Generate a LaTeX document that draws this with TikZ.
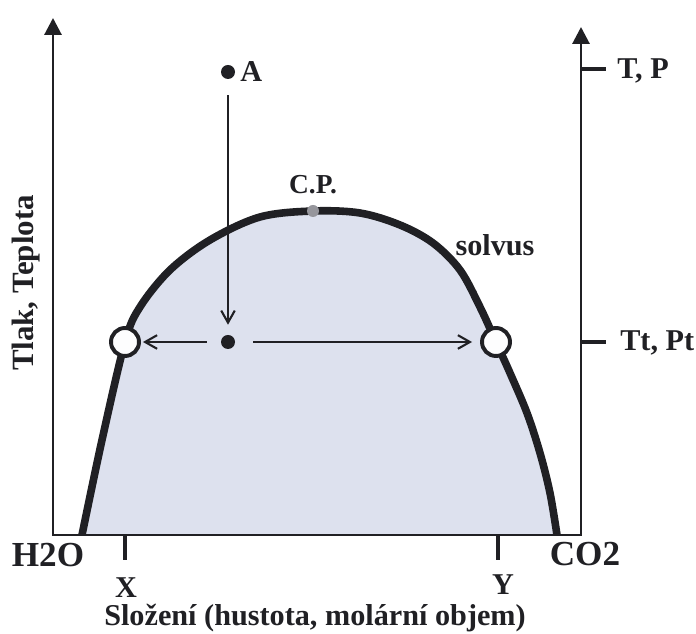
\documentclass[tikz,border=0pt]{standalone}
\usepackage{fontspec}
\setmainfont{Liberation Serif}
\usepackage{tikz}
\usetikzlibrary{arrows.meta, positioning}
\definecolor{domefill}{RGB}{221, 225, 238}
\definecolor{inkdark}{RGB}{32, 32, 36}
\definecolor{cpgrey}{RGB}{150, 150, 156}

\tikzset{
    lbl/.style={font=\fontsize{21.5}{25}\selectfont\bfseries,
                text=inkdark, inner sep=0pt},
    biglbl/.style={lbl, font=\fontsize{25}{29}\selectfont\bfseries},
    axisline/.style={line width=2.1pt, draw=inkdark, line join=miter,
                     {Triangle[length=4.2mm,width=4.2mm]}-{Triangle[length=4.2mm,width=4.2mm]}},
    ticmark/.style={line width=2.8pt, draw=inkdark},
    solvusline/.style={line width=5.4pt, draw=inkdark},
    blackdot/.style={circle, fill=inkdark, minimum size=3.5mm, inner sep=0pt},
    phasering/.style={circle, draw=inkdark, fill=white!94!domefill,
                      line width=2.8pt, minimum size=7mm, inner sep=0pt},
    flow/.style={line width=1.5pt, draw=inkdark,
                 -{Straight Barb[length=3mm,width=3.4mm]}}
}

\newcommand{\domecurve}{plot[smooth, tension=0.55] coordinates {
    (2.05,2.475) (2.55,4.85) (3.125,7.3)
    (3.5,8.175) (4.25,9.1) (5.25,9.85) (6.5,10.425) (7.825,10.575)
    (9.0,10.525) (10.0,10.225) (10.825,9.775) (11.5,9.1) (12.0,8.175)
    (12.4,7.3) (12.75,6.525) (13.175,5.525) (13.5,4.525) (13.75,3.525)
    (13.925,2.475)}}

\begin{document}
\begin{tikzpicture}

    \useasboundingbox (0,0) rectangle (17.4,15.85);

    % TWO-PHASE REGION
    \fill[domefill] \domecurve -- cycle;

    % AXES
    \coordinate (yL) at (1.325,15.4);
    \coordinate (O) at (1.325,2.475);
    \coordinate (E) at (14.525,2.475);
    \coordinate (yR) at (14.525,15.175);
    \draw[axisline] (yL) -- (O) -- (E) -- (yR);

    % SOLVUS CURVE
    \draw[solvusline] \domecurve;

    % TICKS
    \coordinate (tpA) at (14.525,14.125);
    \coordinate (tpB) at (15.15,14.125);
    \coordinate (ttA) at (14.525,7.3);
    \coordinate (ttB) at (15.15,7.3);
    \coordinate (xA) at (3.125,2.475);
    \coordinate (xB) at (3.125,1.85);
    \coordinate (yA) at (12.44,2.475);
    \coordinate (yB) at (12.44,1.85);
    \draw[ticmark] (tpA) -- (tpB);
    \draw[ticmark] (ttA) -- (ttB);
    \draw[ticmark] (xA) -- (xB);
    \draw[ticmark] (yA) -- (yB);

    % POINTS
    \node[circle, fill=cpgrey, minimum size=3mm, inner sep=0pt]
        (cp) at (7.825,10.575) {};
    \node[phasering] (liqL) at (3.125,7.3) {};
    \node[phasering] (liqR) at (12.4,7.3) {};
    \node[blackdot] (ptA) at (5.7,14.05) {};
    \node[blackdot] (ptM) at (5.7,7.3) {};

    % PATH OF THE INCLUSION
    \draw[flow, shorten <=0.4cm, shorten >=0.25cm] (ptA) -- (ptM);
    \draw[flow, shorten <=0.35cm, shorten >=0.05cm] (ptM) -- (liqL);
    \draw[flow, shorten <=0.45cm, shorten >=0.2cm] (ptM) -- (liqR);

    % LABELS
    \node[lbl, font=\fontsize{21.5}{25}\selectfont\bfseries,
          right=0.12cm of ptA] (labA) {A};
    \node[lbl, font=\fontsize{19.5}{23}\selectfont\bfseries,
          above=0.27cm of cp] (labCP) {C.P.};
    \node[lbl] (labSolvus) at (12.375,9.725) {solvus};
    \node[lbl, anchor=base west] (labTP) at (15.425,13.875) {T, P};
    \node[lbl, anchor=base west] (labTt) at (15.5,7.075) {Tt, Pt};
    \node[biglbl, anchor=base] (labH) at (1.2,1.675) {H2O};
    \node[biglbl, anchor=base] (labC) at (14.625,1.7) {CO2};
    \node[lbl, anchor=base] (labX) at (3.15,0.9) {X};
    \node[lbl, anchor=base] (labY) at (12.575,0.98) {Y};
    \node[lbl, anchor=base]
        (labComp) at (7.875,0.2) {Složení (hustota, molární objem)};
    \node[lbl, font=\fontsize{22}{26}\selectfont\bfseries, rotate=90,
          anchor=base] (labAxis) at (0.83,8.775) {Tlak, Teplota};

\end{tikzpicture}
\end{document}
